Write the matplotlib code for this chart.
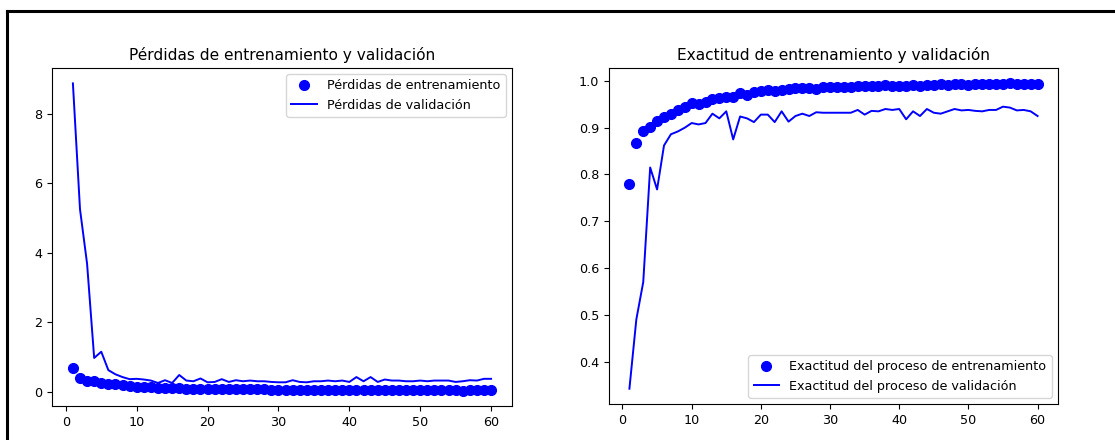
import matplotlib
matplotlib.use("Agg")
import matplotlib.pyplot as plt
from matplotlib.lines import Line2D

epochs = list(range(1, 61))

train_loss = [0.68, 0.40, 0.32, 0.30, 0.25, 0.22, 0.21, 0.19, 0.16, 0.14,
              0.14, 0.13, 0.11, 0.11, 0.10, 0.10, 0.09, 0.09, 0.09, 0.08,
              0.08, 0.08, 0.07, 0.07, 0.07, 0.07, 0.07, 0.07, 0.06, 0.06,
              0.06, 0.06, 0.06, 0.05, 0.05, 0.05, 0.05, 0.05, 0.05, 0.05,
              0.05, 0.05, 0.05, 0.04, 0.04, 0.04, 0.04, 0.04, 0.04, 0.04,
              0.04, 0.04, 0.04, 0.04, 0.04, 0.03, 0.04, 0.04, 0.04, 0.04]
val_loss = [8.87, 5.25, 3.68, 0.97, 1.15, 0.62, 0.50, 0.42, 0.36, 0.37,
            0.35, 0.32, 0.25, 0.33, 0.25, 0.48, 0.32, 0.30, 0.38, 0.27,
            0.28, 0.36, 0.28, 0.33, 0.30, 0.32, 0.30, 0.30, 0.28, 0.27,
            0.27, 0.33, 0.28, 0.27, 0.30, 0.30, 0.32, 0.30, 0.32, 0.28,
            0.42, 0.30, 0.42, 0.28, 0.35, 0.32, 0.32, 0.30, 0.30, 0.32,
            0.30, 0.32, 0.32, 0.32, 0.28, 0.30, 0.33, 0.32, 0.37, 0.37]

train_acc = [0.780, 0.867, 0.892, 0.902, 0.915, 0.923, 0.930, 0.938, 0.944, 0.952,
             0.951, 0.956, 0.962, 0.964, 0.966, 0.965, 0.974, 0.970, 0.977, 0.978,
             0.980, 0.978, 0.981, 0.983, 0.984, 0.984, 0.984, 0.983, 0.986, 0.986,
             0.986, 0.988, 0.986, 0.990, 0.989, 0.990, 0.990, 0.991, 0.990, 0.990,
             0.990, 0.991, 0.990, 0.991, 0.992, 0.993, 0.991, 0.993, 0.993, 0.991,
             0.993, 0.993, 0.993, 0.993, 0.993, 0.995, 0.993, 0.993, 0.993, 0.993]
val_acc = [0.342, 0.490, 0.570, 0.815, 0.768, 0.862, 0.886, 0.892, 0.900, 0.910,
           0.907, 0.910, 0.930, 0.920, 0.935, 0.875, 0.924, 0.920, 0.912, 0.928,
           0.928, 0.912, 0.935, 0.913, 0.925, 0.930, 0.925, 0.933, 0.932, 0.932,
           0.932, 0.932, 0.932, 0.938, 0.928, 0.936, 0.935, 0.940, 0.938, 0.940,
           0.918, 0.935, 0.925, 0.940, 0.932, 0.930, 0.935, 0.940, 0.937, 0.938,
           0.936, 0.935, 0.938, 0.938, 0.945, 0.943, 0.937, 0.938, 0.935, 0.925]

fig = plt.figure(figsize=(11.15, 4.4), dpi=100)
ax1 = fig.add_axes([52/1115, 1-406/440, 460/1115, 338/440])
ax2 = fig.add_axes([609/1115, 1-404/440, 449/1115, 336/440])

fs = 9.2
ms = 7.0
ax1.plot(epochs, train_loss, 'bo', markersize=ms, label='Pérdidas de entrenamiento')
ax1.plot(epochs, val_loss, 'b', linewidth=1.4, label='Pérdidas de validación')
ax1.set_title('Pérdidas de entrenamiento y validación', fontsize=11.1)
ax1.legend(fontsize=fs, loc='upper right')

ax2.plot(epochs, train_acc, 'bo', markersize=ms, label='Exactitud del proceso de entrenamiento')
ax2.plot(epochs, val_acc, 'b', linewidth=1.4, label='Exactitud del proceso de validación')
ax2.set_title('Exactitud de entrenamiento y validación', fontsize=11.1)
ax2.legend(fontsize=fs, loc='lower right')

for ax in (ax1, ax2):
    ax.tick_params(labelsize=fs)
    ax.set_xticks([0, 10, 20, 30, 40, 50, 60])

# frame lines of the screenshot
fig.add_artist(Line2D([7/1115, 1.0], [1-11/440, 1-11/440], transform=fig.transFigure,
                      color='black', linewidth=2.2))
fig.add_artist(Line2D([7/1115, 7/1115], [0.0, 1-11/440], transform=fig.transFigure,
                      color='black', linewidth=2.2))

fig.savefig('out.png', dpi=100)
